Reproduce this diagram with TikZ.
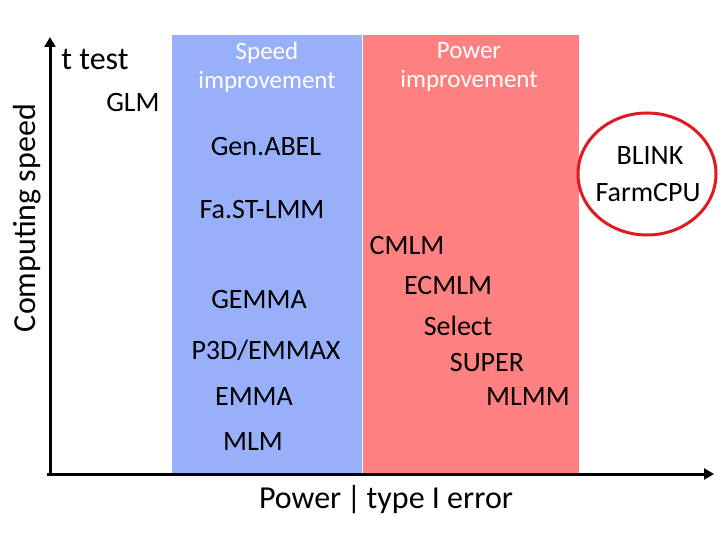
\documentclass[tikz,border=0pt]{standalone}
\usepackage{fontspec}
\setmainfont{Carlito}
\usetikzlibrary{arrows.meta}
\definecolor{speedblue}{HTML}{98AFFA}
\definecolor{powerred}{HTML}{FF8080}
\definecolor{ringred}{HTML}{E01A22}
\tikzset{
  lbl/.style={font=\fontsize{28}{30}\selectfont, inner sep=0pt, anchor=center},
  big/.style={font=\fontsize{32}{34}\selectfont},
  head/.style={font=\fontsize{25}{29}\selectfont, text=white, align=center, inner sep=0pt},
  axis/.style={line width=3pt, -{Triangle[length=10pt,width=11pt]}}
}
\begin{document}
\begin{tikzpicture}[x=1pt,y=-1pt]
\useasboundingbox (0,0) rectangle (720,540);
\fill[speedblue] (172,35) rectangle (362,475);
\fill[powerred] (363,35) rectangle (579,475);
\coordinate (ytop) at (50,37);
\coordinate (xend) at (714,474);
\draw[axis] (50,476) -- (ytop);
\draw[axis] (47,474) -- (xend);
\node[lbl, big, rotate=90] (ylab) at (27,218) {Computing speed};
\node[lbl, big] (xlab) at (386,500) {Power\,|\,type I error};
\node[lbl, big] (ttest) at (95,60) {t test};
\node[lbl] (glm) at (133,103) {GLM};
\node[head] (speed) at (267,67) {Speed\\improvement};
\node[head] (power) at (469,67) {Power\\improvement};
\node[lbl] (genabel) at (266,147) {Gen.ABEL};
\node[lbl] (fast) at (262,210) {Fa.ST-LMM};
\node[lbl] (gemma) at (259,300) {GEMMA};
\node[lbl] (p3d) at (266,350) {P3D/EMMAX};
\node[lbl] (emma) at (254,397) {EMMA};
\node[lbl] (mlm) at (253,442) {MLM};
\node[lbl] (cmlm) at (407,246) {CMLM};
\node[lbl] (ecmlm) at (448,286) {ECMLM};
\node[lbl] (select) at (458,326) {Select};
\node[lbl] (super) at (487,363) {SUPER};
\node[lbl] (mlmm) at (528,397) {MLMM};
\node[lbl] (blink) at (650,156) {BLINK};
\node[lbl] (farm) at (648,193) {FarmCPU};
\draw[ringred, line width=3pt] (647,174) ellipse [x radius=69, y radius=61];
\end{tikzpicture}
\end{document}
